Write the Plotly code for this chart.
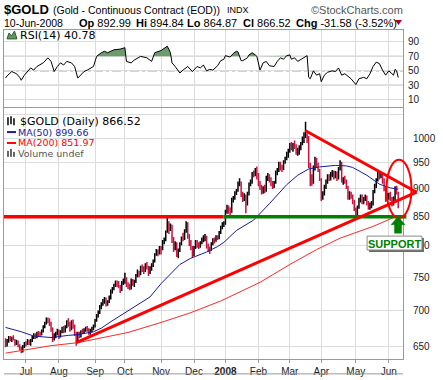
import numpy as np
import pandas as pd
import plotly.graph_objects as go

# ---------------- DATA ----------------
HOLIDAYS = ["2007-07-04", "2007-09-03", "2007-11-22", "2007-12-25", "2008-01-01",
            "2008-01-21", "2008-02-18", "2008-03-21", "2008-05-26"]
FIRST_DAY, LAST_DAY = "2007-06-13", "2008-06-10"

OPEN = [658,651,658,662,660,661,659,654,657,651,647,644,650,
        654,653,658,655,657,662,666,662,668,667,666,671,677,682,687,685,681,673,661,665,668,
        671,664,670,675,671,677,684,680,673,683,677,667,660,666,664,670,669,672,675,672,668,672,674,
        678,686,693,698,705,710,714,717,709,713,720,728,732,738,741,739,736,731,741,
        745,748,738,735,733,745,740,743,753,758,755,765,762,760,769,766,758,764,769,775,786,792,788,
        796,795,808,810,824,836,832,835,810,795,803,788,792,804,814,812,825,838,816,805,797,
        785,797,806,802,800,805,811,812,816,800,795,794,803,810,809,815,813,823,831,837,
        838,860,866,862,858,881,884,894,897,910,912,889,882,886,883,890,909,912,929,928,934,
        926,910,905,893,902,897,922,925,917,910,908,912,932,936,947,942,938,952,958,968,
        975,984,980,986,979,972,975,978,989,998,1002,1005,1000,948,920,912,940,955,948,935,
        918,885,893,904,914,925,920,929,932,923,931,920,938,950,916,918,914,903,884,890,888,876,
        864,856,866,880,886,876,882,886,874,866,870,872,895,906,916,930,925,928,918,902,880,
        885,890,882,873,881,902,892.99]
HIGH = [661,660,664,664,663,665,660,659,658,653,650,652,656,
        657,660,659,660,664,668,668,670,671,670,673,679,684,690,690,689,684,676,668,670,674,
        673,672,677,678,679,686,689,684,686,687,680,670,670,670,672,674,675,677,678,675,674,677,680,
        688,695,700,708,712,717,720,719,715,722,731,735,740,745,745,744,738,744,748,
        757,750,742,740,748,747,746,755,762,760,768,770,767,772,774,768,767,772,778,788,795,794,800,
        800,810,814,826,848,842,838,836,815,808,806,796,806,816,822,828,842,840,820,810,800,
        800,810,810,806,808,814,818,820,817,804,799,806,813,814,818,818,825,834,840,842,
        862,871,870,866,884,887,896,900,914,920,914,895,892,890,895,912,918,932,935,940,943,
        930,915,908,905,908,925,930,928,922,915,915,935,940,952,952,946,955,962,972,978,
        990,992,990,995,987,980,985,992,1003,1012,1034,1010,1004,950,928,945,962,960,950,938,
        920,896,908,918,928,928,932,936,935,934,933,942,955,952,922,925,918,906,896,895,890,880,
        866,870,884,890,890,885,890,888,878,875,878,898,910,920,936,934,932,930,920,905,892,
        893,895,885,886,905,906,894.84]
LOW = [649,650,655,657,656,658,651,652,649,645,641,642,648,
       650,652,652,651,656,660,660,661,664,663,665,669,675,680,682,678,670,656,658,661,665,
       660,662,668,668,669,675,677,670,672,674,664,651,656,661,662,667,667,670,670,666,666,669,672,
       676,684,690,695,702,707,710,706,707,711,716,725,730,735,735,733,726,729,738,
       740,735,732,730,731,737,735,741,750,750,753,758,755,758,762,752,755,760,766,773,784,783,786,
       786,793,803,808,822,820,825,805,790,793,782,780,790,801,808,810,822,812,800,793,781,
       783,795,797,795,797,803,806,808,796,790,787,792,801,804,807,810,811,820,828,832,
       836,855,855,852,857,875,880,889,895,905,885,876,878,856,870,888,905,910,922,924,918,
       905,898,890,891,892,895,915,912,905,900,902,910,926,932,935,932,936,948,955,960,
       970,975,972,978,966,964,966,975,985,990,1000,990,940,905,906,910,935,940,932,915,
       878,880,888,900,910,915,916,922,918,920,915,918,935,912,908,910,900,880,880,882,872,860,
       852,853,864,875,872,872,878,870,862,862,865,870,892,902,914,918,920,910,896,876,878,
       880,878,868,870,878,890,864.87]
CLOSE = [651,658,662,660,661,659,654,657,651,647,644,650,654,
         653,658,655,657,662,666,662,668,667,666,671,677,682,687,685,681,673,661,665,668,671,
         664,670,675,671,677,684,680,673,683,677,667,660,666,664,670,669,672,675,672,668,672,674,678,
         686,693,698,705,710,714,717,709,713,720,728,732,738,741,739,736,731,741,745,
         748,738,735,733,745,740,743,753,758,755,765,762,760,769,766,758,764,769,775,786,792,788,796,
         795,808,810,824,836,832,835,810,795,803,788,792,804,814,812,825,838,816,805,797,785,
         797,806,802,800,805,811,812,816,800,795,794,803,810,809,815,813,823,831,837,838,
         860,866,862,858,881,884,894,897,910,912,889,882,886,883,890,909,912,929,928,934,926,
         910,905,893,902,897,922,925,917,910,908,912,932,936,947,942,938,952,958,968,975,
         984,980,986,979,972,975,978,989,998,1002,1005,1000,948,920,912,940,955,948,935,918,
         885,893,904,914,925,920,929,932,923,931,920,938,950,916,918,914,903,884,890,888,876,864,
         856,866,880,886,876,882,886,874,866,870,872,895,906,916,930,925,928,918,902,880,885,
         890,882,873,881,902,898.10,866.52]

# Moving averages (trading-day number, value)
MA50_DAY = [0,10,18,29,40,46,56,61,67,78,86,92,99,105,111,118,128,135,139,147,158,168,179,186,193,200,210,217,221,230,238,245,250]
MA50_VAL = [676,670,664,662,665,666,670,675,684,700,712,720,740,755,770,780,790,799,806,826,844,873,908,926,938,942,945,944,941,926,909,902,899.66]
MA200_DAY = [0,29,46,61,78,99,118,137,162,181,198,213,234,250]
MA200_VAL = [641,651,655,662,669,683,697,714,742,770,794,813,833,851.97]

# RSI(14) (trading-day number, value)
RSI_DAY = [0,1,4,7,9,10,12,14,16,18,20,24,27,29,31,33,35,37,39,42,44,46,48,50,52,54,56,58,61,63,65,69,73,76,77,80,82,86,90,93,95,99,103,105,106,108,111,113,116,119,122,
           124,126,128,130,132,135,137,139,140,142,143,145,147,148,150,151,154,155,157,159,160,162,164,166,168,171,173,175,177,179,181,182,184,186,189,192,193,194,196,198,200,201,203,205,208,210,212,214,216,218,220,223,225,228,230,232,234,236,238,240,242,244,246,247,248,249,250]
RSI_VAL = [40,43,49,46,41,37,44,49,54,51,56,61,68,63,49,56,61,58,63,61,56,40,44,49,51,54,56,70,75,77,75,79,80,82,63,61,65,70,68,63,75,78,84,75,61,56,47,51,56,49,56,
           54,58,50,52,51,57,64,66,71,70,69,74,77,76,64,64,68,72,75,72,70,51,61,63,57,56,63,68,66,71,72,66,68,63,67,71,41,39,50,44,46,35,44,48,50,49,54,44,46,42,39,31,39,41,39,46,56,62,60,51,44,50,46,44,52,50,40.78]

# Hand-drawn analysis lines (trading-day number, price)
TREND_UP_DAY, TREND_UP_PRICE = [45, 261.7], [655, 894]
TREND_DN_DAY, TREND_DN_PRICE = [191, 261.7], [1015, 894]
SUPPORT_PRICE = 850
SUPPORT_SPLIT_DAY, SUPPORT_END_DAY = 138.8, 255.2

PRICE_TICKS = [650, 700, 750, 800, 850, 900, 950, 1000, 1050]
RSI_TICKS = [10, 30, 50, 70, 90]

# ---------------- BUILD ----------------
dates = pd.bdate_range(FIRST_DAY, LAST_DAY)
dates = dates[~dates.isin(pd.to_datetime(HOLIDAYS))]
n = len(dates)
for arr in (OPEN, HIGH, LOW, CLOSE):
    assert len(arr) == n, (len(arr), n)
assert len(RSI_DAY) == len(RSI_VAL) and len(MA50_DAY) == len(MA50_VAL)
day = np.arange(n)

month_idx = [i for i in range(1, n) if dates[i].month != dates[i - 1].month]
month_txt = ["<b>%d</b>" % dates[i].year if dates[i].month == 1 else dates[i].strftime("%b") for i in month_idx]

X0, X1 = -0.96, 253.04
L0, L1 = 2.8016, 3.02669
PD = (0.0, 0.76205)
RD = (0.765, 1.0)
R0, R1 = -0.4, 106.4

def xp(d):
    return (d - X0) / (X1 - X0)

def yp(v):
    return PD[0] + (np.log10(v) - L0) / (L1 - L0) * (PD[1] - PD[0])

def px_x(px):
    return (px - 3) / 400.0

def px_y(py):
    return (362 - py) / 332.0

RED = "#ff0000"
BAR_RED = "#cc1040"
GREEN = "#008000"
GRID = "#dcdcdc"
FRAME = "#9a9a9a"

fig = go.Figure()

# RSI fill above 70 (with crossing points inserted)
fx, fy = [], []
for i in range(len(RSI_DAY)):
    if i > 0:
        a, b = RSI_VAL[i - 1], RSI_VAL[i]
        if (a - 70) * (b - 70) < 0:
            t = (70 - a) / (b - a)
            fx.append(RSI_DAY[i - 1] + t * (RSI_DAY[i] - RSI_DAY[i - 1]))
            fy.append(70)
    fx.append(RSI_DAY[i])
    fy.append(RSI_VAL[i])
fig.add_trace(go.Scatter(x=fx, y=[70] * len(fx), mode="lines", line=dict(width=0),
                         xaxis="x2", yaxis="y2", hoverinfo="skip"))
fig.add_trace(go.Scatter(x=fx, y=[max(v, 70) for v in fy], mode="lines", line=dict(width=0),
                         fill="tonexty", fillcolor="#6b9c6b", xaxis="x2", yaxis="y2", hoverinfo="skip"))
fig.add_trace(go.Scatter(x=RSI_DAY, y=RSI_VAL, mode="lines", line=dict(color="#000000", width=1),
                         xaxis="x2", yaxis="y2"))

# Price bars
fig.add_trace(go.Ohlc(x=day, open=OPEN, high=HIGH, low=LOW, close=CLOSE,
                      increasing=dict(line=dict(color="#000000", width=1.5)),
                      decreasing=dict(line=dict(color=BAR_RED, width=1.5)),
                      tickwidth=0.35, xaxis="x", yaxis="y"))
fig.add_trace(go.Scatter(x=MA50_DAY, y=MA50_VAL, mode="lines", line=dict(color="#1a1a9a", width=1),
                         xaxis="x", yaxis="y"))
fig.add_trace(go.Scatter(x=MA200_DAY, y=MA200_VAL, mode="lines", line=dict(color="#ff2a2a", width=1),
                         xaxis="x", yaxis="y"))

shapes = []
# RSI reference lines
for lvl, dash, col in [(70, "solid", "#6e6e6e"), (30, "solid", "#6e6e6e"), (50, "dashdot", "#7a7a7a")]:
    shapes.append(dict(type="line", xref="paper", yref="y2", x0=0, x1=1, y0=lvl, y1=lvl,
                       line=dict(color=col, width=1, dash=dash), layer="between"))
# support line (red then green)
sy = yp(SUPPORT_PRICE)
shapes.append(dict(type="line", xref="paper", yref="paper", x0=0, x1=xp(SUPPORT_SPLIT_DAY), y0=sy, y1=sy,
                   line=dict(color=RED, width=3.5)))
shapes.append(dict(type="line", xref="paper", yref="paper", x0=xp(SUPPORT_SPLIT_DAY), x1=xp(SUPPORT_END_DAY),
                   y0=sy, y1=sy, line=dict(color=GREEN, width=3.5)))
# trend lines
for dd, pp in [(TREND_UP_DAY, TREND_UP_PRICE), (TREND_DN_DAY, TREND_DN_PRICE)]:
    shapes.append(dict(type="line", xref="paper", yref="paper", x0=xp(dd[0]), x1=xp(dd[1]),
                       y0=yp(pp[0]), y1=yp(pp[1]), line=dict(color=RED, width=3)))
# ellipse
shapes.append(dict(type="circle", xref="paper", yref="paper", x0=px_x(386.5), x1=px_x(411.5),
                   y0=px_y(220), y1=px_y(161), line=dict(color=RED, width=2)))
# green arrow
pts = [(398, 218.3), (391, 226.5), (394.5, 226.5), (394.5, 235), (401.5, 235), (401.5, 226.5), (405, 226.5)]
path = "M " + " L ".join("%.5f,%.5f" % (px_x(a), px_y(b)) for a, b in pts) + " Z"
shapes.append(dict(type="path", xref="paper", yref="paper", path=path, fillcolor=GREEN, line=dict(color=GREEN, width=0.5)))
# SUPPORT box + shadow
shapes.append(dict(type="rect", xref="paper", yref="paper", x0=px_x(369), x1=px_x(424), y0=px_y(254), y1=px_y(240),
                   fillcolor="#6a6a6a", line=dict(width=0)))
shapes.append(dict(type="rect", xref="paper", yref="paper", x0=px_x(367), x1=px_x(422), y0=px_y(252), y1=px_y(238),
                   fillcolor="#ffffff", line=dict(color="#8a8a8a", width=1)))
# change triangle
tri = [(395, 20), (402, 20), (398.5, 25)]
shapes.append(dict(type="path", xref="paper", yref="paper",
                   path="M " + " L ".join("%.5f,%.5f" % (px_x(a), px_y(b)) for a, b in tri) + " Z",
                   fillcolor="#b00020", line=dict(width=0)))
# legend icons
shapes.append(dict(type="path", xref="paper", yref="paper",
                   path="M " + " L ".join("%.5f,%.5f" % (px_x(a), px_y(b)) for a, b in
                                          [(6, 39), (8, 33), (10.5, 36), (13.5, 31), (16, 39)]) + " Z",
                   fillcolor="#5e975e", line=dict(color="#2f5f2f", width=1)))
for a, b0, b1 in [(7, 118, 126), (10, 117, 125), (13, 119, 126)]:
    shapes.append(dict(type="line", xref="paper", yref="paper", x0=px_x(a), x1=px_x(a), y0=px_y(b1), y1=px_y(b0),
                       line=dict(color="#000", width=1.5)))
shapes.append(dict(type="line", xref="paper", yref="paper", x0=px_x(6), x1=px_x(15), y0=px_y(133), y1=px_y(133),
                   line=dict(color="#1a1a9a", width=2)))
shapes.append(dict(type="line", xref="paper", yref="paper", x0=px_x(6), x1=px_x(15), y0=px_y(144), y1=px_y(144),
                   line=dict(color=RED, width=2)))
for a, b0 in [(7, 152), (10, 150), (13, 153)]:
    shapes.append(dict(type="line", xref="paper", yref="paper", x0=px_x(a), x1=px_x(a), y0=px_y(158), y1=px_y(b0),
                       line=dict(color="#666", width=2)))
# next-panel border at bottom
shapes.append(dict(type="line", xref="paper", yref="paper", x0=0, x1=1, y0=px_y(377), y1=px_y(377),
                   line=dict(color=FRAME, width=1)))

AR = "Liberation Sans, Arial, sans-serif"
DV = "DejaVu Sans, Verdana, sans-serif"

def note(text, px, py, size, color="#000", family=AR, anchor="left"):
    return dict(text=text, x=px_x(px), y=px_y(py), xref="paper", yref="paper", xanchor=anchor, yanchor="middle",
                showarrow=False, font=dict(family=family, size=size, color=color), borderpad=0)

annotations = [
    note("<b>$GOLD</b>", 2, 9, 13),
    note("(Gold - Continuous Contract (EOD))", 51, 9.5, 10.5),
    note("INDX", 226, 9.5, 9),
    note("©StockCharts.com", 404, 9.5, 11, "#555", anchor="right"),
    note("10-Jun-2008", 2, 22.5, 10.5),
    note("<b>Op</b> 892.99", 77, 22.5, 11),
    note("<b>Hi</b> 894.84", 134, 22.5, 11),
    note("<b>Lo</b> 864.87", 185, 22.5, 11),
    note("<b>Cl</b> 866.52", 242, 22.5, 11),
    note("<b>Chg</b> -31.58 (-3.52%)", 295, 22.5, 11),
    note("RSI(14) 40.78", 18, 35.5, 11, family=DV),
    note("$GOLD (Daily) 866.52", 18, 122, 11, family=DV),
    note("MA(50) 899.66", 16.5, 133, 9.5, "#1a1a9a", family=DV),
    note("MA(200) 851.97", 16.5, 144, 9.5, RED, family=DV),
    note("Volume undef", 16.5, 155, 9.5, "#555", family=DV),
    note("<b>SUPPORT</b>", 394.5, 245.5, 11, GREEN, anchor="center"),
]

tickfont = dict(family=AR, size=10, color="#222")
fig.update_layout(
    width=443, height=380, margin=dict(l=3, r=40, t=30, b=18),
    paper_bgcolor="white", plot_bgcolor="white", showlegend=False, hovermode=False,
    font=dict(family=AR),
    xaxis=dict(domain=[0, 1], anchor="y", range=[X0, X1], tickmode="array", tickvals=month_idx,
               ticktext=month_txt, showgrid=True, gridcolor=GRID, showline=True, linecolor=FRAME, mirror=True,
               ticks="outside", ticklen=3, tickcolor=FRAME, tickfont=tickfont, zeroline=False,
               rangeslider=dict(visible=False)),
    xaxis2=dict(domain=[0, 1], anchor="y2", matches="x", range=[X0, X1], tickmode="array", tickvals=month_idx,
                showticklabels=False, showgrid=True, gridcolor=GRID, showline=True, linecolor=FRAME,
                mirror=True, ticks="", zeroline=False),
    yaxis=dict(domain=list(PD), anchor="x", type="log", range=[L0, L1], side="right", tickmode="array",
               tickvals=PRICE_TICKS, ticktext=[str(v) if v < 1050 else "" for v in PRICE_TICKS],
               showgrid=True, gridcolor=GRID, showline=True, linecolor=FRAME, mirror=True, ticks="",
               tickfont=tickfont, ticklabelstandoff=7, zeroline=False),
    yaxis2=dict(domain=list(RD), anchor="x2", range=[R0, R1], side="right", tickmode="array",
                tickvals=RSI_TICKS, showgrid=True, gridcolor=GRID, showline=True, linecolor=FRAME,
                mirror=True, ticks="", tickfont=tickfont, ticklabelstandoff=2, zeroline=False),
    shapes=shapes, annotations=annotations,
)

fig.write_html("out.html", config={"displayModeBar": False, "staticPlot": True},
               post_script="document.body.style.margin='0px';")
